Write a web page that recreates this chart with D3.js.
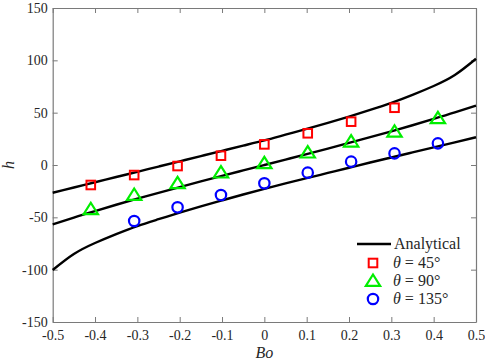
<!DOCTYPE html>
<html><head><meta charset="utf-8">
<script src="https://cdn.jsdelivr.net/npm/d3@7"></script>
<style>body{margin:0;background:#fff}svg{display:block}text{font-family:"Liberation Serif","DejaVu Serif",serif}</style>
</head><body><svg id="c" width="485" height="363"></svg>
<script>
const curveBo = [-0.5,-0.45,-0.4,-0.35,-0.3,-0.25,-0.2,-0.15,-0.1,-0.05,0,0.05,0.1,0.15,0.2,0.25,0.3,0.35,0.4,0.45,0.5];
const analytic45  = [-26.5,-21.5,-16.5,-11.5,-6.5,-1.5,3.5,8.5,13.5,18.5,23.5,29,34.5,40.3,46.3,52.6,59.3,67,75.5,86,101.5];
const analytic90  = [-56.8,-50.2,-44,-38,-32.2,-26.6,-21.1,-15.7,-10.4,-5.2,0,5.2,10.4,15.7,21.1,26.6,32.2,38,44,50.2,56.8];
const analytic135 = [-100.3,-85,-74.5,-66,-58.3,-51.8,-45.5,-39.5,-33.8,-28.2,-22.8,-17.6,-12.6,-7.6,-2.6,2.4,7.2,12,16.8,21.6,26.5];
const boSq  = [-0.41,-0.3075,-0.205,-0.1025,0,0.1025,0.205,0.3075];
const hSq   = [-19.1,-9.6,-1,8.9,19.7,30.3,41.4,54.7];
const boTri = [-0.41,-0.3075,-0.205,-0.1025,0,0.1025,0.205,0.3075,0.41];
const hTri  = [-42.3,-28.7,-17.5,-7.3,1.6,11.8,22.3,31.8,44.6];
const boCir = [-0.3075,-0.205,-0.1025,0,0.1025,0.205,0.3075,0.41];
const hCir  = [-53.5,-40.4,-28.7,-17.5,-7.3,3.2,11.1,20.7];
const xTicks = [-0.5,-0.4,-0.3,-0.2,-0.1,0,0.1,0.2,0.3,0.4,0.5];
const yTicks = [-150,-100,-50,0,50,100,150];
const legendLabels = ["Analytical","45","90","135"];

const L=52.7,R=476,T=8,B=322;
const svg=d3.select("#c");
const x=d3.scaleLinear().domain([-0.5,0.5]).range([L,R]);
const y=d3.scaleLinear().domain([-150,150]).range([B,T]);
const axCol="#7a7a7a", txtCol="#262626";

function styleAxis(g){g.select(".domain").attr("stroke",axCol).attr("stroke-width",1.2);
 g.selectAll(".tick line").attr("stroke",axCol).attr("stroke-width",1);
 g.selectAll(".tick text").attr("fill",txtCol).style("font-size","14px").style("font-family","Liberation Serif");}
const fmtX=d=>d===0?"0":(d<0?"-":"")+Math.abs(d).toFixed(1);
const fmtY=d=>(d<0?"-":"")+Math.abs(d);
svg.append("g").attr("transform",`translate(0,${B})`).call(d3.axisBottom(x).tickValues(xTicks).tickFormat(fmtX).tickSizeInner(-5).tickSizeOuter(0).tickPadding(8)).call(styleAxis);
svg.append("g").attr("transform",`translate(0,${T})`).call(d3.axisTop(x).tickValues(xTicks).tickFormat("").tickSizeInner(-5).tickSizeOuter(0)).call(styleAxis);
svg.append("g").attr("transform",`translate(${L},0)`).call(d3.axisLeft(y).tickValues(yTicks).tickFormat(fmtY).tickSizeInner(-5).tickSizeOuter(0).tickPadding(5)).call(styleAxis);
svg.append("g").attr("transform",`translate(${R},0)`).call(d3.axisRight(y).tickValues(yTicks).tickFormat("").tickSizeInner(-5).tickSizeOuter(0)).call(styleAxis);

const line=d3.line().x(d=>x(d[0])).y(d=>y(d[1])).curve(d3.curveNatural);
[analytic45,analytic90,analytic135].forEach(arr=>{
 svg.append("path").datum(curveBo.map((b,i)=>[b,arr[i]])).attr("d",line).attr("fill","none").attr("stroke","#000").attr("stroke-width",2.4);
});
function square(g,cx,cy){g.append("rect").attr("x",cx-4.3).attr("y",cy-4.3).attr("width",8.6).attr("height",8.6).attr("fill","none").attr("stroke","#ff0000").attr("stroke-width",2);}
function tri(g,cx,cy){const s=6.5;g.append("path").attr("d",`M${cx},${cy-s}L${cx+s*1.1},${cy+s*0.75}L${cx-s*1.1},${cy+s*0.75}Z`).attr("fill","none").attr("stroke","#00ee00").attr("stroke-width",2.2);}
function circ(g,cx,cy){g.append("circle").attr("cx",cx).attr("cy",cy).attr("r",5.2).attr("fill","none").attr("stroke","#0000ff").attr("stroke-width",2.2);}
const mg=svg.append("g");
boSq.forEach((b,i)=>square(mg,x(b),y(hSq[i])));
boTri.forEach((b,i)=>tri(mg,x(b),y(hTri[i])));
boCir.forEach((b,i)=>circ(mg,x(b),y(hCir[i])));

// labels
svg.append("text").attr("x",x(0)).attr("y",358).attr("text-anchor","middle").attr("fill",txtCol).style("font-size","16px").style("font-style","italic").text("Bo");
svg.append("text").attr("transform",`translate(14,${y(0)}) rotate(-90)`).attr("text-anchor","middle").attr("fill",txtCol).style("font-size","16px").style("font-style","italic").text("h");

// legend
const lg=svg.append("g");
const ly=[244,263,281,299];
lg.append("line").attr("x1",357).attr("x2",391).attr("y1",ly[0]).attr("y2",ly[0]).attr("stroke","#000").attr("stroke-width",2.4);
lg.append("text").attr("x",394).attr("y",ly[0]+5).attr("fill",txtCol).style("font-size","16px").text(legendLabels[0]);
square(lg,373,ly[1]); tri(lg,373,ly[2]); circ(lg,373,ly[3]);
[1,2,3].forEach(k=>{
 const t=lg.append("text").attr("x",393).attr("y",ly[k]+5).attr("fill",txtCol).style("font-size","16px");
 t.append("tspan").style("font-style","italic").text("θ");
 t.append("tspan").text(" = "+legendLabels[k]+"°");
});
</script></body></html>
